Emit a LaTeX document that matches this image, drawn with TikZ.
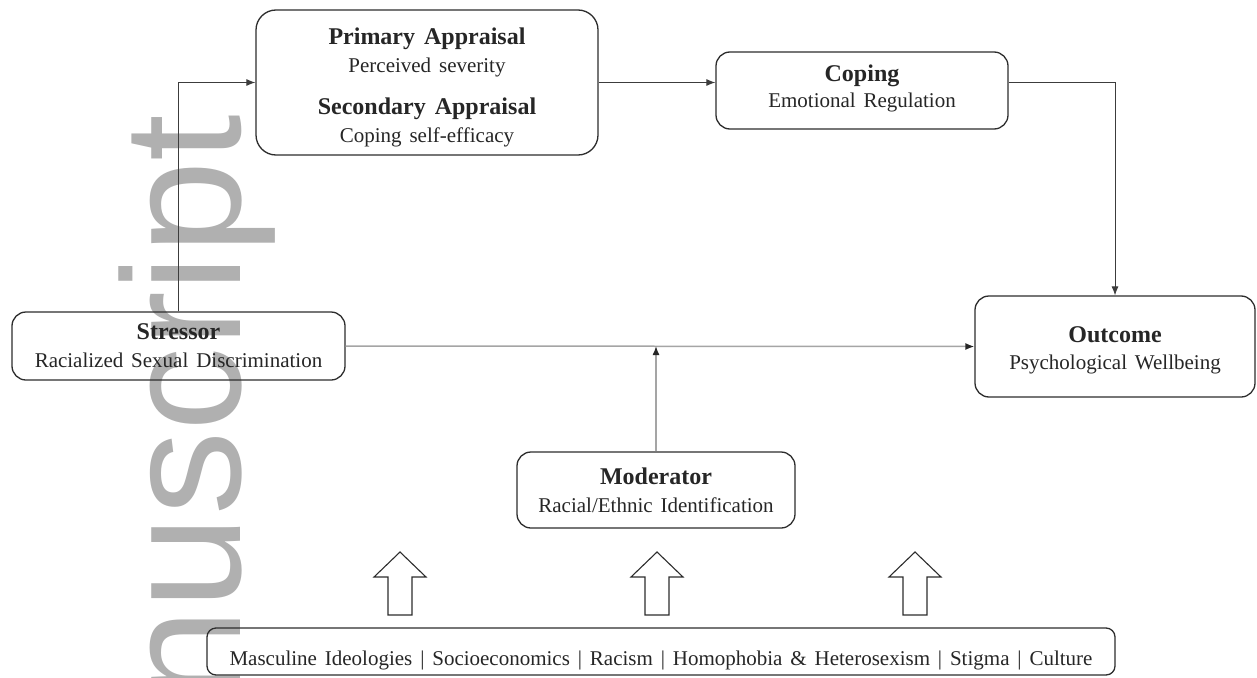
\documentclass[tikz,border=0pt]{standalone}
\usepackage{fontspec}
\setmainfont{Liberation Serif}[WordSpace=1.5]
\newfontfamily\wmfont{Liberation Sans}
\usetikzlibrary{arrows.meta}
\definecolor{wm}{RGB}{176,176,176}
\definecolor{bd}{RGB}{45,45,45}
\definecolor{ln}{RGB}{60,60,60}
\definecolor{lg}{RGB}{165,165,165}
\newcommand{\hd}{\fontsize{24}{28}\selectfont\bfseries}
\newcommand{\topstrut}[1]{\rule{0pt}{#1}}
\newcommand{\botstrut}[1]{\rule[-#1]{0pt}{0pt}}
\begin{document}
\begin{tikzpicture}[x=1pt,y=-1pt,
  box/.style={draw=bd, line width=1.3pt, rounded corners=14pt, align=center,
    inner sep=0pt, font=\fontsize{21}{28}\selectfont, text=black!85},
  conn/.style={draw=ln, line width=0.9pt, -{Latex[length=9pt,width=7pt]}},
  gconn/.style={draw=lg, line width=1.5pt, -{Latex[length=9pt,width=7pt,color=black!85]}},
  fat/.style={draw=bd, line width=1.1pt, fill=white},
  wmtext/.style={text=wm, font=\wmfont\fontsize{168}{168}\selectfont, inner sep=0pt}]
\useasboundingbox (0,0) rectangle (1257,677);
\fill[white] (0,0) rectangle (1257,677);
% watermark
\node[wmtext, rotate=90, anchor=base west] (wmark) at (240,703) {nuscript};
% boxes
\node[box, minimum width=342, minimum height=145, rounded corners=20pt] (primary) at (427,82.5)
  {{\hd\topstrut{27.5pt}Primary Appraisal}\\Perceived severity\\[14pt]{\hd Secondary Appraisal}\\Coping self-efficacy};
\node[box, minimum width=292, minimum height=77, font=\fontsize{21}{26}\selectfont] (coping) at (862,90.5)
  {{\hd Coping}\\Emotional Regulation\botstrut{9pt}};
\node[box, minimum width=280, minimum height=101, font=\fontsize{21}{27}\selectfont] (outcome) at (1115,346.5)
  {{\hd\topstrut{24.5pt}Outcome}\\Psychological Wellbeing};
\node[box, minimum width=333, minimum height=68] (stressor) at (178.5,346)
  {{\hd Stressor}\\Racialized Sexual Discrimination};
\node[box, minimum width=278, minimum height=76] (moderator) at (656,490)
  {{\hd Moderator}\\Racial/Ethnic Identification};
\node[box, minimum width=908, minimum height=47, rounded corners=9pt] (factors) at (661,651.5)
  {\topstrut{33pt}Masculine Ideologies | Socioeconomics | Racism | Homophobia \& Heterosexism | Stigma | Culture};
% block arrows
\foreach \cx in {400,657,915}
  \draw[fat] (\cx,552) -- (\cx+26,577) -- (\cx+12,577) -- (\cx+12,615)
    -- (\cx-12,615) -- (\cx-12,577) -- (\cx-26,577) -- cycle;
% connectors
\draw[conn] (stressor.north) |- (primary.west);
\draw[conn] (primary.east) -- (primary.east -| coping.west);
\draw[conn] (primary.east -| coping.east) -| (outcome.north);
\draw[gconn] (stressor.east) -- (outcome.west);
\coordinate (mj) at (moderator.north |- stressor.east);
\draw[gconn] (moderator.north) -- (mj);
\end{tikzpicture}
\end{document}
